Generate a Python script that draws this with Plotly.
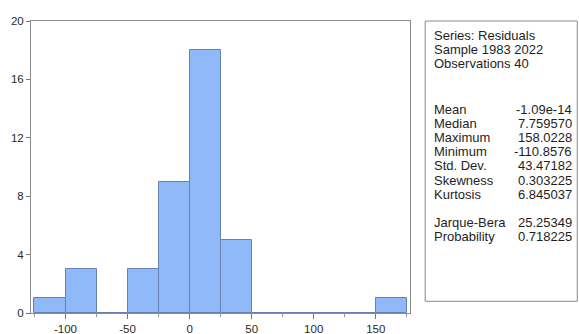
import plotly.graph_objects as go

# Histogram data (bin start, count), bin width 25
bin_starts = [-125, -100, -75, -50, -25, 0, 25, 50, 75, 100, 125, 150]
counts = [1, 3, 0, 3, 9, 18, 5, 0, 0, 0, 0, 1]
bin_width = 25

y_ticks = [0, 4, 8, 12, 16, 20]
x_ticks = [-100, -50, 0, 50, 100, 150]
x_tick_labels = ["-100", "-50", "0", "50", "100", "150"]

stat_header = ["Series: Residuals", "Sample 1983 2022", "Observations 40"]
stat_names = ["Mean", "Median", "Maximum", "Minimum", "Std. Dev.", "Skewness", "Kurtosis"]
stat_values = ["-1.09e-14", "7.759570", "158.0228", "-110.8576", "43.47182", "0.303225", "6.845037"]
test_names = ["Jarque-Bera", "Probability"]
test_values = ["25.25349", "0.718225"]

W, H = 579, 334
L, R, T, B = 31, 410.5, 21, 312.7

fig = go.Figure()
fig.add_trace(go.Bar(
    x=[s + bin_width / 2 for s in bin_starts],
    y=counts,
    width=bin_width,
    marker=dict(color="#8fb9f8", line=dict(color="#6682b3", width=1)),
    showlegend=False,
))

font = "Liberation Sans, Arial, sans-serif"
fig.update_layout(
    width=W, height=H,
    margin=dict(l=L, r=W - R, t=T, b=H - B, pad=0, autoexpand=False),
    plot_bgcolor="white", paper_bgcolor="white",
    bargap=0,
    font=dict(family=font, size=11, color="#2a2a2a"),
    xaxis=dict(
        range=[-127.8, 177.6], tickvals=x_ticks, ticktext=x_tick_labels,
        ticks="outside", ticklen=5,
        tickcolor="#777777", showgrid=False, zeroline=False,
        showline=True, linecolor="#8a8a8a", linewidth=1, mirror=True,
        minor=dict(dtick=25, tick0=0, ticks="outside", ticklen=3, tickcolor="#999999"),
        tickfont=dict(size=11.5, color="#2a2a2a"),
    ),
    yaxis=dict(
        range=[0, 20], tickvals=y_ticks, ticks="outside", ticklen=4,
        tickcolor="#777777", showgrid=False, zeroline=False,
        showline=True, linecolor="#8a8a8a", linewidth=1, mirror=True,
        tickfont=dict(size=11.5, color="#2a2a2a"),
    ),
)

pw = R - L
ph = B - T

def px(xw):
    return (xw - L) / pw

def py(yw):
    return (B - yw) / ph

# stats box
fig.add_shape(type="rect", xref="paper", yref="paper",
              x0=px(425.7), x1=px(578), y0=py(301), y1=py(21),
              line=dict(color="#8a8a8a", width=1), fillcolor="white", layer="below")

fs = 13
label_x = px(432.5)
value_x = px(575)
tc = "#1e1e1e"

def put(text, x, y, anchor):
    fig.add_annotation(text=text, x=x, y=py(y), xref="paper", yref="paper",
                       xanchor=anchor, yanchor="middle", showarrow=False,
                       font=dict(size=fs, color=tc, family=font))

header_y = [35, 49.5, 63.5]
for txt, yy in zip(stat_header, header_y):
    put(txt, label_x, yy, "left")
stat_y = [109 + 14.2 * i for i in range(len(stat_names))]
for n, v, yy in zip(stat_names, stat_values, stat_y):
    put(n, label_x, yy, "left")
    put(v, value_x, yy, "right")
test_y = [222, 236]
for n, v, yy in zip(test_names, test_values, test_y):
    put(n, label_x, yy, "left")
    put(v, value_x, yy, "right")

fig.write_html(
    "out.html",
    config={"displayModeBar": False},
    post_script="document.body.style.margin='0';document.body.style.overflow='hidden';",
)
